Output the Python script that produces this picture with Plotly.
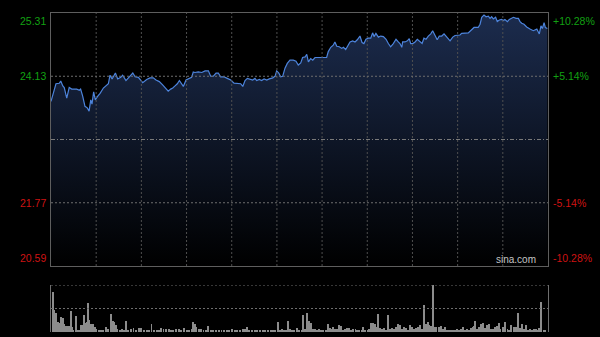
import plotly.graph_objects as go

# ---------------- data ----------------
prev_close = 22.95
price_low, price_high = 20.59, 25.31
session_minutes = 240

minutes = [
    0, 1.4, 2.4, 4.0, 4.7, 5.7, 6.4, 7.6, 8.8, 10.0,
    12.4, 13.7, 14.3, 15.3, 16.4, 17.5, 18.4, 19.2, 19.8, 20.6,
    21.4, 22.4, 23.7, 25.3, 26.6, 27.7, 28.5, 29.5, 31.1, 32.2,
    33.7, 34.6, 36.2, 37.8, 39.5, 40.6, 42.2, 44.3, 46.2, 47.8,
    49.4, 50.7, 52.3, 53.9, 55.5, 56.6, 57.8, 58.8, 59.9, 61.0,
    62.0, 63.1, 63.9, 65.2, 66.8, 67.9, 68.7, 69.5, 71.1, 72.8,
    74.4, 76.0, 77.1, 78.4, 79.7, 80.8, 81.9, 83.5, 85.1, 86.8,
    88.4, 90.0, 91.6, 92.6, 93.7, 94.8, 96.1,
    97.4, 98.5, 99.3, 100.6, 101.7, 102.9, 104.2, 105.4, 107.1, 108.2,
    109.0, 110.0, 110.9, 111.9, 113.0, 114.1, 115.4, 117.0, 118.3, 119.4,
    120.6, 121.5, 122.7, 123.5, 124.3, 125.4, 126.4, 127.5, 129.1, 131.5,
    133.1, 133.9, 135.1, 136.3, 137.1, 138.0, 139.2, 140.4, 141.2, 142.3,
    143.3, 144.4,
    145.7, 146.8, 147.9, 149.2, 150.2, 151.1, 152.1, 153.2, 154.4, 155.3,
    156.0, 156.9, 158.1, 159.2, 160.5, 161.8, 162.9, 164.0, 165.3, 166.6,
    167.7, 168.5, 169.4, 169.8, 170.9, 172.1, 173.0, 173.7, 174.7, 175.8,
    176.9, 178.2, 179.2, 180.1, 181.1, 182.2, 183.4, 184.3, 185.4, 186.5,
    187.5, 188.7, 189.8, 191.1, 192.7,
    194.0, 195.1, 197.5, 198.3, 201.5, 202.7, 204.3, 206.3, 207.2, 208.0,
    209.1, 210.1, 211.2, 212.0, 212.8, 213.6, 214.7, 215.5, 216.5, 217.6,
    218.4, 219.2, 220.4, 221.3, 222.5, 223.3, 224.6, 225.7, 226.5, 227.3,
    228.4, 229.7, 231.3, 232.9, 234.6, 235.8, 236.6, 237.3, 238.1, 238.7,
    239.7,
]

price = [
    23.66, 23.87, 23.99, 24.00, 24.04, 23.95, 23.92, 23.72, 23.92, 23.89,
    23.89, 23.87, 23.89, 23.76, 23.57, 23.54, 23.48, 23.69, 23.61, 23.84,
    23.69, 23.75, 23.81, 23.91, 23.95, 23.99, 24.15, 24.08, 24.19, 24.08,
    24.11, 24.15, 24.05, 24.12, 24.19, 24.12, 24.11, 24.01, 24.07, 24.10,
    24.10, 24.06, 24.03, 23.97, 23.91, 23.85, 23.89, 23.91, 23.95, 23.99,
    24.05, 23.99, 23.94, 24.06, 24.09, 24.11, 24.21, 24.20, 24.21, 24.20,
    24.23, 24.23, 24.13, 24.13, 24.19, 24.19, 24.12, 24.12, 24.09, 24.06,
    24.00, 23.99, 23.99, 23.94, 24.05, 24.09, 24.08,
    24.06, 24.09, 24.05, 24.07, 24.05, 24.08, 24.06, 24.08, 24.10, 24.13,
    24.23, 24.19, 24.12, 24.13, 24.28, 24.37, 24.43, 24.43, 24.41, 24.34,
    24.38, 24.48, 24.49, 24.54, 24.40, 24.46, 24.43, 24.48, 24.48, 24.48,
    24.48, 24.59, 24.67, 24.71, 24.77, 24.69, 24.68, 24.65, 24.67, 24.63,
    24.71, 24.77,
    24.79, 24.77, 24.81, 24.88, 24.76, 24.74, 24.82, 24.84, 24.84, 24.94,
    24.87, 24.93, 24.86, 24.88, 24.87, 24.82, 24.74, 24.68, 24.74, 24.82,
    24.77, 24.74, 24.67, 24.77, 24.77, 24.79, 24.83, 24.74, 24.74, 24.77,
    24.82, 24.77, 24.74, 24.84, 24.82, 24.88, 24.92, 24.98, 24.90, 24.81,
    24.88, 24.88, 24.92, 24.86, 24.79,
    24.86, 24.89, 24.90, 24.93, 24.94, 24.99, 25.04, 25.04, 25.10, 25.23,
    25.27, 25.24, 25.25, 25.21, 25.24, 25.20, 25.23, 25.15, 25.18, 25.19,
    25.17, 25.19, 25.15, 25.19, 25.21, 25.23, 25.21, 25.21, 25.15, 25.12,
    25.10, 25.05, 25.01, 24.98, 25.01, 24.92, 25.07, 25.02, 25.13, 25.04,
    25.02,
]

vol_minutes = [
    1.1, 1.6, 2.3, 2.7, 3.4, 4.0, 5.0, 5.6, 6.3, 6.9,
    7.6, 8.2, 8.9, 9.5, 10.1, 10.8, 12.2, 12.9, 14.0, 14.6,
    15.3, 15.8, 16.6, 17.2, 18.0, 18.5, 19.2, 19.8, 20.4, 21.3,
    21.9, 23.0, 24.0, 25.3, 26.6, 27.7, 28.8, 29.5, 30.1, 30.7,
    31.4, 32.0, 33.3, 34.3, 35.3, 36.1, 37.2, 38.5, 39.8, 41.1,
    42.3, 43.6, 44.9, 46.2, 47.5, 48.5, 49.7, 51.0, 52.3, 53.3,
    54.3, 55.5, 56.8, 58.1, 59.1, 60.4, 61.7, 62.9, 64.2, 65.5,
    66.8, 67.9, 68.7, 69.5, 70.3, 71.3, 72.6, 73.6, 74.9, 76.0,
    77.1, 78.4, 79.7, 81.0, 82.3, 83.5, 84.8, 86.1, 87.4, 88.7,
    90.0, 91.3, 92.6, 93.8, 94.8, 95.8, 97.1, 98.4, 99.6, 100.9,
    102.2, 103.5, 104.8, 106.1, 107.4, 108.3, 109.5, 110.6, 111.6, 112.5,
    113.5, 114.5, 115.4, 116.4, 117.4, 118.6, 119.6,
    121.0, 121.8, 122.8, 123.8, 124.6, 125.4, 126.4, 127.3, 128.3, 129.3,
    130.2, 131.5, 132.8, 133.9, 134.7, 135.7, 136.3, 137.3, 138.3, 139.2,
    140.2, 141.2, 142.1, 143.1, 144.1, 145.0, 146.0, 147.0, 147.9, 148.9,
    149.9, 150.8, 151.8, 152.8, 153.7, 154.7, 155.3, 156.3, 156.9, 157.9,
    158.9, 159.8, 160.8, 161.8, 162.9, 163.7, 164.7, 165.6, 166.6, 167.6,
    168.5, 169.5, 170.5, 171.4, 172.4, 173.4, 174.3, 175.3, 176.3, 177.2,
    178.2, 179.2, 180.1, 180.9, 181.9, 182.7, 183.5, 184.6, 185.4, 186.2,
    187.2, 188.2, 189.1, 190.1, 191.1, 192.0, 193.0, 194.0, 194.9, 195.9,
    196.9, 197.8, 198.8, 199.8, 200.7, 201.7, 202.7, 203.6, 204.3, 204.9,
    205.9, 206.8, 207.8, 208.8, 209.7, 210.7, 211.7, 212.6, 213.6, 214.6,
    215.5, 216.2, 217.1, 218.4, 219.4, 220.4, 221.3, 222.3, 223.3, 224.2,
    224.9, 225.7, 226.5, 227.5, 228.4, 229.4, 230.3, 231.3, 232.3, 233.2,
    234.2, 235.2, 235.8, 236.8, 237.8, 238.7,
]

volume = [
    1210, 660, 580, 310, 290, 280, 460, 410, 240, 180,
    180, 180, 180, 640, 140, 60, 480, 40, 60, 210,
    210, 510, 260, 310, 880, 360, 240, 160, 240, 140,
    80, 60, 60, 60, 160, 80, 540, 210, 340, 290,
    210, 80, 40, 80, 60, 340, 60, 80, 110, 40,
    130, 110, 40, 40, 60, 240, 40, 40, 60, 130,
    80, 80, 100, 60, 60, 100, 80, 60, 110, 60,
    40, 80, 300, 240, 140, 80, 80, 60, 40, 180,
    40, 60, 40, 40, 60, 40, 60, 60, 80, 60,
    40, 40, 80, 80, 140, 60, 40, 30, 30, 30,
    40, 30, 40, 40, 60, 40, 300, 60, 80, 60,
    60, 340, 80, 60, 40, 110, 60,
    60, 510, 80, 560, 340, 280, 80, 80, 60, 100,
    30, 30, 60, 240, 110, 80, 140, 100, 80, 210,
    180, 60, 80, 110, 110, 60, 80, 80, 60, 60,
    60, 140, 60, 60, 80, 280, 260, 240, 140, 540,
    110, 80, 110, 60, 510, 80, 110, 80, 140, 240,
    210, 80, 140, 110, 60, 210, 140, 80, 110, 140,
    210, 80, 810, 240, 290, 210, 180, 1410, 160, 140,
    160, 180, 80, 160, 60, 40, 60, 60, 60, 80,
    60, 80, 160, 60, 80, 40, 110, 140, 180, 340,
    80, 140, 240, 260, 110, 210, 230, 80, 80, 160,
    180, 260, 80, 160, 310, 80, 60, 210, 140, 140,
    160, 560, 110, 240, 80, 210, 60, 80, 60, 80,
    80, 60, 110, 910, 60, 60,
]
vol_top = 1410

left_values = [25.31, 24.13, 21.77, 20.59]
left_labels = ["25.31", "24.13", "21.77", "20.59"]
right_labels = ["+10.28%", "+5.14%", "-5.14%", "-10.28%"]
grid_prices = [24.13, 21.77]
n_time_cols = 11

# ---------------- styling ----------------
UP = "#12a012"
DOWN = "#cf1313"
FONT = "Liberation Sans, Arial, sans-serif"

fig = go.Figure()

fig.add_trace(go.Scatter(
    x=minutes, y=price, mode="lines",
    line=dict(color="#4d84dc", width=1.2),
    fill="tozeroy",
    fillgradient=dict(type="vertical",
                      colorscale=[[0, "#000000"], [1, "#1c2c4e"]],
                      start=price_low, stop=price_high),
    hoverinfo="skip", showlegend=False,
    xaxis="x", yaxis="y",
))

fig.add_trace(go.Bar(
    x=vol_minutes, y=volume, width=0.4,
    marker=dict(color="#8c8c8c", line=dict(width=0)),
    hoverinfo="skip", showlegend=False,
    xaxis="x2", yaxis="y2",
))

shapes = []
step = session_minutes / n_time_cols
for k in range(1, n_time_cols):
    shapes.append(dict(type="line", xref="x", yref="y domain",
                       x0=k * step, x1=k * step, y0=0, y1=1,
                       line=dict(color="#505050", width=1, dash="2px,2px"),
                       layer="above"))
for gp in grid_prices:
    shapes.append(dict(type="line", xref="x domain", yref="y",
                       x0=0, x1=1, y0=gp, y1=gp,
                       line=dict(color="#6e6e6e", width=1, dash="2px,2px"),
                       layer="above"))
shapes.append(dict(type="line", xref="x domain", yref="y",
                   x0=0, x1=1, y0=prev_close, y1=prev_close,
                   line=dict(color="#7a7a7a", width=1, dash="4px,2px,1px,2px"),
                   layer="above"))
for frac in (0.5, 1.0):
    shapes.append(dict(type="line", xref="x2 domain", yref="y2",
                       x0=0, x1=1, y0=vol_top * frac, y1=vol_top * frac,
                       line=dict(color="#6e6e6e", width=1, dash="2px,2px"),
                       layer="above"))

annotations = []
for i, (v, lab, rlab) in enumerate(zip(left_values, left_labels, right_labels)):
    col = UP if v > prev_close else DOWN
    if i == 0:
        ya = "top"
    elif i == len(left_values) - 1:
        ya = "bottom"
    else:
        ya = "middle"
    annotations.append(dict(xref="paper", yref="y", x=0, y=v, text=lab,
                            xanchor="right", yanchor=ya, xshift=-3,
                            showarrow=False, font=dict(color=col, size=10.5, family=FONT)))
    annotations.append(dict(xref="paper", yref="y", x=1, y=v, text=rlab,
                            xanchor="left", yanchor=ya, xshift=3,
                            showarrow=False, font=dict(color=col, size=10.5, family=FONT)))
annotations.append(dict(xref="paper", yref="y", x=1, y=price_low, text="sina.com",
                        xanchor="right", yanchor="bottom", xshift=-10, yshift=-1,
                        showarrow=False, font=dict(color="#c4c4c4", size=10, family=FONT)))

fig.update_layout(
    width=600, height=337,
    margin=dict(l=51, r=52, t=13, b=5),
    paper_bgcolor="#000000", plot_bgcolor="#000000",
    showlegend=False, bargap=0,
    shapes=shapes, annotations=annotations,
    xaxis=dict(domain=[0, 1], range=[0, session_minutes], showgrid=False,
               zeroline=False, showticklabels=False, ticks="",
               showline=True, mirror=True, linecolor="#5e5e5e", linewidth=1,
               anchor="y"),
    yaxis=dict(domain=[0.2069, 1], range=[price_low, price_high], showgrid=False,
               zeroline=False, showticklabels=False, ticks="",
               showline=True, mirror=True, linecolor="#5e5e5e", linewidth=1,
               anchor="x"),
    xaxis2=dict(domain=[0, 1], range=[0, session_minutes], showgrid=False,
                zeroline=False, showticklabels=False, ticks="", showline=False,
                anchor="y2"),
    yaxis2=dict(domain=[0, 0.1473], range=[0, vol_top], showgrid=False,
                zeroline=False, showticklabels=False, ticks="",
                showline=True, mirror=True, linecolor="#6e6e6e", linewidth=1,
                anchor="x2"),
)

fig.write_html("out.html")
